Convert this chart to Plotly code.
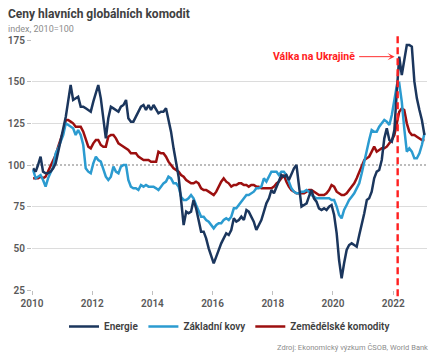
import pandas as pd
import plotly.graph_objects as go

# Monthly indices (2010 = 100), Jan 2010 – Jan 2023
energie = [
    98, 96, 100, 105, 96, 95, 95, 96, 98, 101, 108, 115,
    122, 129, 138, 148, 139, 140, 141, 135, 135, 134, 133, 132,
    138, 144, 148, 140, 128, 116, 128, 135, 134, 133, 132, 135,
    136, 139, 128, 126, 126, 129, 132, 135, 136, 133, 136, 133,
    136, 133, 131, 132, 132, 134, 128, 120, 110, 102, 93, 79,
    64, 72, 71, 72, 79, 74, 68, 60, 60, 56, 50, 46,
    41, 45, 49, 53, 56, 59, 58, 61, 68, 66, 67, 69,
    67, 73, 72, 69, 66, 61, 64, 67, 72, 77, 80, 85,
    83, 87, 91, 94, 93, 94, 91, 95, 98, 100, 87, 75,
    76, 77, 81, 85, 80, 78, 74, 73, 74, 73, 75, 76,
    70, 59, 43, 32, 41, 49, 52, 53, 52, 51, 58, 64,
    71, 79, 80, 84, 92, 96, 97, 103, 116, 122, 115, 114,
    121, 145, 165, 154, 164, 172, 172, 171, 150, 140, 133, 127,
    118,
]
zakladni_kovy = [
    97, 92, 93, 94, 91, 87, 92, 96, 99, 107, 110, 114,
    118, 125, 124, 123, 122, 118, 121, 118, 112, 98, 96, 95,
    101, 105, 103, 102, 97, 93, 91, 93, 99, 96, 95, 99,
    100, 100, 91, 87, 86, 86, 85, 88, 87, 88, 87, 87,
    87, 86, 85, 87, 89, 90, 93, 92, 89, 89, 87, 81,
    79, 79, 80, 82, 80, 76, 72, 69, 69, 67, 66, 64,
    62, 64, 65, 65, 67, 68, 67, 69, 74, 74, 76, 78,
    80, 82, 82, 83, 84, 86, 86, 87, 92, 90, 93, 96,
    96, 96, 94, 96, 96, 94, 90, 86, 84, 83, 83, 84,
    84, 85, 84, 82, 81, 80, 80, 80, 80, 80, 80, 79,
    79, 75, 70, 68, 73, 76, 79, 81, 83, 86, 89, 95,
    102, 110, 115, 121, 120, 120, 123, 125, 127, 126, 124, 130,
    138, 148, 149, 138, 122, 108, 110, 108, 104, 104, 107, 112,
    119,
]
zemedelske = [
    92, 92, 92, 93, 92, 93, 96, 100, 103, 106, 111, 116,
    120, 127, 127, 126, 125, 123, 123, 123, 120, 116, 111, 110,
    113, 115, 115, 112, 111, 111, 117, 118, 118, 116, 113, 112,
    111, 110, 109, 107, 107, 107, 105, 104, 103, 103, 103, 102,
    102, 102, 108, 107, 107, 105, 102, 100, 98, 97, 96, 94,
    93, 91, 90, 89, 89, 90, 89, 86, 85, 85, 84, 83,
    82, 84, 87, 90, 92, 90, 89, 87, 88, 88, 89, 89,
    88, 88, 87, 88, 88, 87, 87, 86, 86, 86, 86, 86,
    87, 89, 90, 92, 94, 90, 87, 85, 84, 83, 83, 83,
    83, 84, 85, 85, 84, 83, 82, 82, 82, 83, 85, 88,
    87, 84, 83, 82, 82, 83, 85, 87, 89, 92, 96, 100,
    103, 104, 105, 108, 111, 108, 109, 110, 110, 111, 113, 115,
    118, 126, 132, 134, 133, 125, 120, 118, 118, 117, 116, 115,
    115,
]
series_names = ["Energie", "Základní kovy", "Zemědělské komodity"]
y_ticks = [25, 50, 75, 100, 125, 150, 175]
war_date = "2022-02-24"
war_label = "Válka na Ukrajině"

dates = pd.date_range("2010-01-01", periods=len(energie), freq="MS") + pd.Timedelta(days=14)

colors = {"Energie": "#1b365d", "Základní kovy": "#2b9bd0", "Zemědělské komodity": "#9c0f0f"}
values = {"Energie": energie, "Základní kovy": zakladni_kovy, "Zemědělské komodity": zemedelske}

FONT = "Roboto"
fig = go.Figure()
for name in reversed(series_names):
    fig.add_trace(go.Scatter(
        x=dates, y=values[name], name=name, mode="lines",
        line=dict(color=colors[name], width=2.5),
        yaxis="y",
    ))

# invisible trace on a twin axis to carry the grid (without the 100 line)
fig.add_trace(go.Scatter(x=[dates[0]], y=[100], yaxis="y2", showlegend=False,
                         mode="markers", marker=dict(opacity=0), hoverinfo="skip"))

fig.update_layout(
    width=440, height=360,
    margin=dict(l=32, r=13, t=40, b=70, autoexpand=False),
    paper_bgcolor="white", plot_bgcolor="white",
    font=dict(family=FONT, color="#595959", size=10),
    showlegend=True,
    legend=dict(orientation="h", x=0.5, xanchor="center", y=-0.088, yanchor="top",
                traceorder="reversed", font=dict(size=10, color="#404040", family=FONT, weight=600),
                itemwidth=30, tracegroupgap=0),
    xaxis=dict(
        type="date", range=["2010-01-01", "2023-02-15"], automargin=False,
        tickformat="%Y", dtick="M24", tick0="2010-01-01",
        showgrid=False, zeroline=False, showline=False,
        ticks="outside", ticklen=4, tickcolor="#bfbfbf",
        tickfont=dict(size=10, color="#595959", weight=600),
    ),
    yaxis=dict(
        range=[25, 175], tickvals=y_ticks, showgrid=False, zeroline=False, automargin=False,
        ticks="outside", ticklen=4, tickcolor="#bfbfbf",
        tickfont=dict(size=10, color="#595959", weight=600),
    ),
    yaxis2=dict(
        range=[25, 175], tickvals=[v for v in y_ticks if v != 100], automargin=False,
        overlaying="y", showticklabels=False, showgrid=True,
        gridcolor="#dcdcdc", gridwidth=1.3, zeroline=False,
    ),
)

# dotted reference at 100
fig.add_hline(y=100, line=dict(color="#a6a6a6", width=1.3, dash="2px,2px"), layer="below")

# war marker
fig.add_shape(type="line", xref="x", yref="paper", x0=war_date, x1=war_date, y0=-0.025, y1=1.03,
              line=dict(color="#ff2020", width=2.4, dash="7px,4px"))
fig.add_annotation(x=war_date, y=165, xref="x", yref="y", ax=-84, ay=0,
                   text="<b>" + war_label + "</b>", showarrow=True, arrowhead=3,
                   arrowsize=1.2, arrowwidth=1, arrowcolor="#ff3030", standoff=3,
                   borderpad=4, font=dict(size=10.5, color="#ff2020", family=FONT))

# titles
fig.add_annotation(xref="paper", yref="paper", x=-0.065, y=1.102, xanchor="left", yanchor="middle",
                   text="<b>Ceny hlavních globálních komodit</b>", showarrow=False,
                   font=dict(size=12, color="#404040", family=FONT))
fig.add_annotation(xref="paper", yref="paper", x=-0.065, y=1.043, xanchor="left", yanchor="middle",
                   text="index, 2010=100", showarrow=False,
                   font=dict(size=9, color="#8c8c8c", family=FONT))
fig.add_annotation(xref="paper", yref="paper", x=1.0, xshift=3, y=-0.228, xanchor="right", yanchor="middle",
                   text="Zdroj: Ekonomický výzkum ČSOB, World Bank", showarrow=False,
                   font=dict(size=7.5, color="#8c8c8c", family=FONT))

fig.write_html("out.html", config={"displayModeBar": False},
               post_script="document.body.style.margin='0px';")
